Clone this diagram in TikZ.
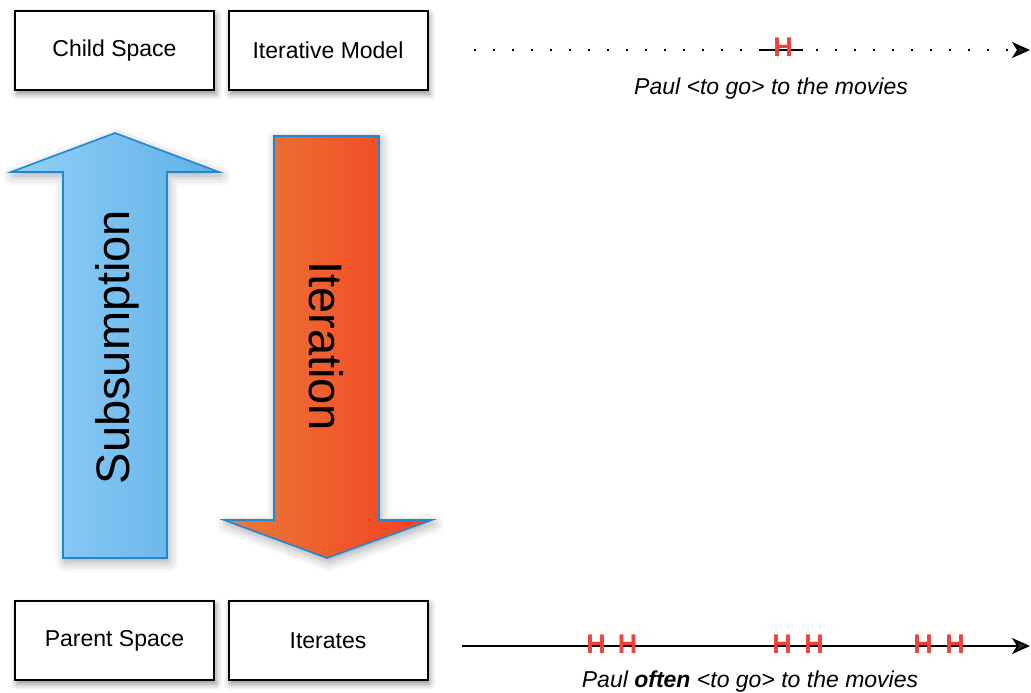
\documentclass[tikz,border=0pt]{standalone}
\usepackage{fontspec}
\setmainfont{Liberation Sans}
\usetikzlibrary{arrows.meta,shadows.blur}

\definecolor{markred}{RGB}{240,64,60}
\definecolor{arrowedge}{RGB}{30,136,208}
\definecolor{subsleft}{RGB}{146,208,248}
\definecolor{subsright}{RGB}{96,176,230}
\definecolor{iterleft}{RGB}{232,124,58}
\definecolor{iterright}{RGB}{247,62,32}

\begin{document}
\begin{tikzpicture}[x=0.5pt,y=-0.5pt]
		\begin{scope}[scale=1]
		
		\tikzstyle{spacebox}=[rectangle,
		draw=black,
		line width=1pt,
		fill=white,
		inner sep=0pt,
		minimum width=99.5pt,
		minimum height=39.5pt,
		font=\fontsize{11.5}{13}\selectfont,
		blur shadow={shadow xshift=1pt, shadow yshift=-2pt, shadow blur radius=3pt, shadow opacity=45}
		]
		\tikzstyle{bigarrow}=[draw=arrowedge,
		line width=0.8pt,
		line join=miter,
		blur shadow={shadow xshift=1pt, shadow yshift=-2pt, shadow blur radius=5pt, shadow opacity=35}
		]
		\tikzstyle{arrowtext}=[inner sep=0pt, font=\fontsize{23.5}{26}\selectfont]
		\tikzstyle{hmark}=[inner sep=0pt, text=markred, font=\fontsize{13.5}{14}\selectfont\bfseries]
		\tikzstyle{caption}=[inner sep=0pt, font=\fontsize{11.5}{13}\selectfont\itshape]
		\tikzstyle{timeline}=[line width=1pt, -{Stealth[length=9pt,width=8pt,inset=2.5pt]}]
		
		\useasboundingbox (0,0) rectangle (1031,692);
		
		\coordinate (pchild) at (114.5, 50.5);
		\coordinate (pmodel) at (328, 50.5);
		\coordinate (pparent) at (114.5, 640.5);
		\coordinate (piter) at (328, 640.5);
		
		\node[spacebox] (child) at (pchild) {Child Space};
		\node[spacebox] (model) at (pmodel) {Iterative Model};
		\node[spacebox] (parent) at (pparent) {Parent Space};
		\node[spacebox] (iterates) at (piter) {Iterates};
		
		% big arrows
		\path[bigarrow, left color=subsleft, right color=subsright]
		(115,133) -- (219,172) -- (167,172) -- (167,558) -- (63,558) -- (63,172) -- (11,172) -- cycle;
		\path[bigarrow, left color=iterleft, right color=iterright]
		(274,136) -- (379,136) -- (379,520) -- (432,520) -- (327,558) -- (224,520) -- (274,520) -- cycle;
		
		\node[arrowtext, rotate=90] (subs) at (117,347) {Subsumption};
		\node[arrowtext, rotate=-90] (iter) at (326,346) {Iteration};
		
		% time lines
		\coordinate (top1) at (474,50);
		\coordinate (top2) at (1030,50);
		\coordinate (bot1) at (462,646);
		\coordinate (bot2) at (1030,646);
		\coordinate (seg1) at (760,50);
		\coordinate (seg2) at (803,50);
		
		\draw[timeline, line width=1.2pt, dash pattern=on 1pt off 8.5pt] (top1) -- (top2);
		\draw[line width=1pt] (seg1) -- (seg2);
		\draw[timeline] (bot1) -- (bot2);
		
		\node[hmark] (h0) at (783,47.5) {H};
		\foreach \x/\n in {596/1, 627.5/2, 782/3, 814/4, 923/5, 955/6}
		\node[hmark] (h\n) at (\x,644) {H};
		
		\node[caption] (once) at (771,89) {Paul <to go> to the movies};
		\node[caption] (often) at (750,682) {Paul \textbf{often} <to go> to the movies};
		
		\end{scope}
\end{tikzpicture}
\end{document}
